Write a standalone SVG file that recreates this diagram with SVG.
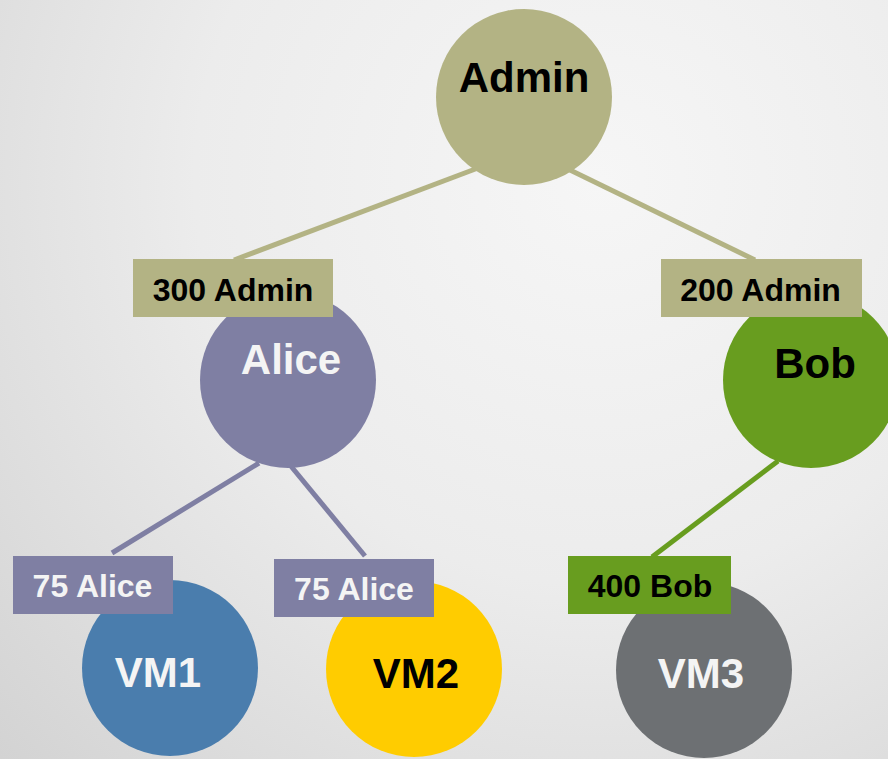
<svg xmlns="http://www.w3.org/2000/svg" width="888" height="759" viewBox="0 0 888 759">
<style>
text{font-family:"Liberation Sans",Arial,Helvetica,sans-serif;font-weight:bold;text-anchor:middle}
.big{font-size:42px}
.lbl{font-size:32px}
.dark{fill:#000}
.light{fill:#f4f4f4}
.edge{stroke-width:5;fill:none}
</style>
<defs>
<radialGradient id="bg" cx="600" cy="180" r="900" gradientUnits="userSpaceOnUse">
<stop offset="0" stop-color="#f6f6f6"/>
<stop offset="0.45" stop-color="#ececec"/>
<stop offset="1" stop-color="#cfcfcf"/>
</radialGradient>
</defs>
<rect width="888" height="759" fill="url(#bg)"/>
<g id="connectors">
<line class="edge" x1="478" y1="168" x2="234" y2="260" stroke="#b3b384"/>
<line class="edge" x1="570" y1="170" x2="755" y2="260" stroke="#b3b384"/>
<line class="edge" x1="259" y1="463" x2="112" y2="553" stroke="#7f7fa3"/>
<line class="edge" x1="290" y1="465" x2="365" y2="556" stroke="#7f7fa3"/>
<line class="edge" x1="778" y1="461" x2="652" y2="557" stroke="#689d1f"/>
</g>
<g id="admin">
<circle cx="524" cy="97" r="88" fill="#b3b384"/>
<text class="big dark" x="524" y="92">Admin</text>
</g>
<g id="alice">
<circle cx="288" cy="380" r="88" fill="#7f7fa3"/>
<text class="big light" x="291" y="374">Alice</text>
</g>
<g id="bob">
<circle cx="811" cy="380" r="88" fill="#689d1f"/>
<text class="big dark" x="815" y="378">Bob</text>
</g>
<g id="vm1">
<circle cx="170" cy="668" r="88" fill="#4a7dad"/>
<text class="big light" x="158" y="687">VM1</text>
</g>
<g id="vm2">
<circle cx="414" cy="669" r="88" fill="#ffcc00"/>
<text class="big dark" x="416" y="688">VM2</text>
</g>
<g id="vm3">
<circle cx="704" cy="670" r="88" fill="#6d7073"/>
<text class="big light" x="701" y="688">VM3</text>
</g>
<g id="label-300-admin">
<rect x="133" y="259" width="200" height="58" fill="#b3b384"/>
<text class="lbl dark" x="233" y="301">300 Admin</text>
</g>
<g id="label-200-admin">
<rect x="661" y="259" width="201" height="58" fill="#b3b384"/>
<text class="lbl dark" x="760.5" y="301">200 Admin</text>
</g>
<g id="label-75-alice-1">
<rect x="13" y="556" width="160" height="58" fill="#7f7fa3"/>
<text class="lbl light" x="92.5" y="597">75 Alice</text>
</g>
<g id="label-75-alice-2">
<rect x="274" y="559" width="160" height="58" fill="#7f7fa3"/>
<text class="lbl light" x="354" y="600">75 Alice</text>
</g>
<g id="label-400-bob">
<rect x="568" y="556" width="163" height="58" fill="#689d1f"/>
<text class="lbl dark" x="650" y="597">400 Bob</text>
</g>
</svg>
